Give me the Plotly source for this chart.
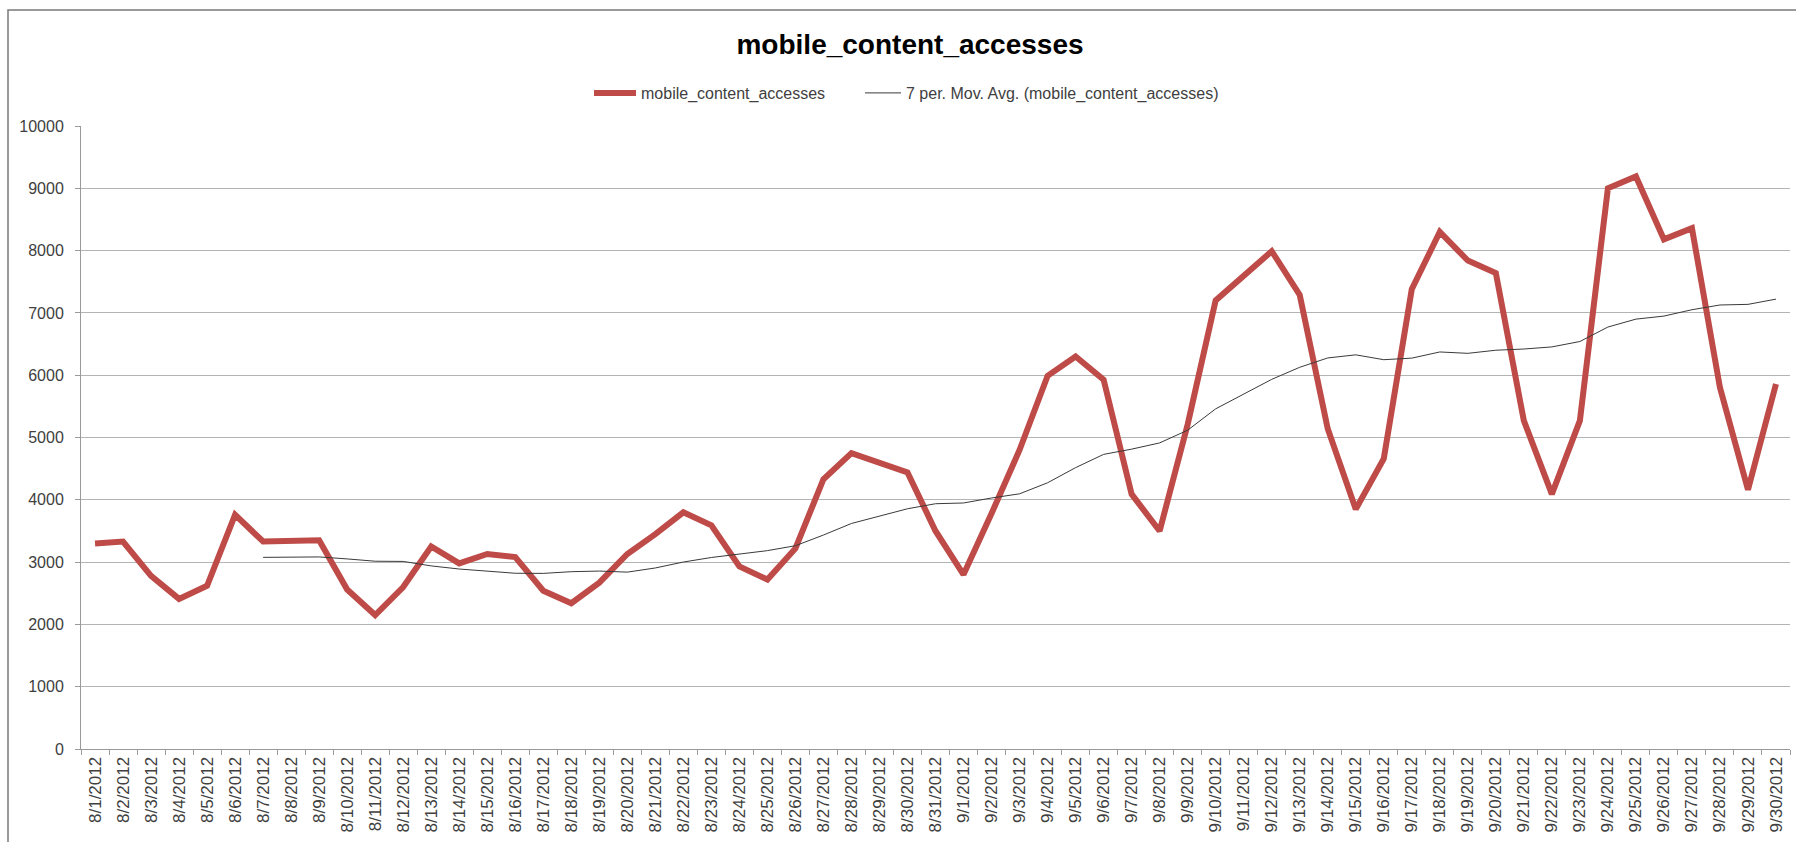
import plotly.graph_objects as go

dates = [
    "8/1/2012", "8/2/2012", "8/3/2012", "8/4/2012", "8/5/2012", "8/6/2012", "8/7/2012",
    "8/8/2012", "8/9/2012", "8/10/2012", "8/11/2012", "8/12/2012", "8/13/2012", "8/14/2012",
    "8/15/2012", "8/16/2012", "8/17/2012", "8/18/2012", "8/19/2012", "8/20/2012", "8/21/2012",
    "8/22/2012", "8/23/2012", "8/24/2012", "8/25/2012", "8/26/2012", "8/27/2012", "8/28/2012",
    "8/29/2012", "8/30/2012", "8/31/2012",
    "9/1/2012", "9/2/2012", "9/3/2012", "9/4/2012", "9/5/2012", "9/6/2012", "9/7/2012",
    "9/8/2012", "9/9/2012", "9/10/2012", "9/11/2012", "9/12/2012", "9/13/2012", "9/14/2012",
    "9/15/2012", "9/16/2012", "9/17/2012", "9/18/2012", "9/19/2012", "9/20/2012", "9/21/2012",
    "9/22/2012", "9/23/2012", "9/24/2012", "9/25/2012", "9/26/2012", "9/27/2012", "9/28/2012",
    "9/29/2012", "9/30/2012",
]

accesses = [
    3300, 3330, 2780, 2410, 2620, 3760, 3330,
    3330, 3350, 2560, 2150, 2600, 3250, 2980,
    3130, 3080, 2540, 2340, 2670, 3130, 3450,
    3800, 3590, 2930, 2720, 3220, 4330, 4750,
    4600, 4440, 3500,
    2800, 3780, 4800, 5990, 6300, 5930, 4090,
    3500, 5210, 7200, 7610, 7990, 7290, 5140,
    3850, 4660, 7380, 8300, 7840, 7640, 5270,
    4090, 5270, 9000, 9190, 8180, 8360, 5800,
    4160, 5860,
]

mov_avg = [
    None, None, None, None, None, None, 3076,
    3080, 3083, 3051, 3014, 3011, 2939, 2889,
    2860, 2821, 2819, 2846, 2856, 2839, 2906,
    3001, 3074, 3130, 3184, 3263, 3434, 3620,
    3734, 3856, 3937,
    3949, 4029, 4096, 4273, 4516, 4729, 4813,
    4913, 5117, 5460, 5691, 5933, 6127, 6277,
    6327, 6249, 6274, 6373, 6351, 6401, 6420,
    6454, 6541, 6773, 6900, 6949, 7051, 7127,
    7137, 7221,
]

y_ticks = [0, 1000, 2000, 3000, 4000, 5000, 6000, 7000, 8000, 9000, 10000]

FONT = "Liberation Sans, Arial, sans-serif"
W, H = 1796, 842
L, R, T, B = 81, 6, 126, 93
pw, ph = W - L - R, H - T - B


def px_x(p):
    return (p - L) / pw


def px_y(p):
    return (H - B - p) / ph


fig = go.Figure()
fig.add_trace(go.Scatter(
    x=dates, y=accesses, mode="lines", name="mobile_content_accesses",
    line=dict(color="#BE4B48", width=6), legend="legend",
))
fig.add_trace(go.Scatter(
    x=dates, y=mov_avg, mode="lines", name="7 per. Mov. Avg. (mobile_content_accesses)",
    line=dict(color="#3a3a3a", width=1), legend="legend2",
))

legend_font = dict(family=FONT, size=16, color="#404040")

fig.update_layout(
    width=W, height=H,
    margin=dict(l=L, r=R, t=T, b=B, pad=0),
    paper_bgcolor="white", plot_bgcolor="white",
    font=dict(family=FONT, color="#404040"),
    title=dict(
        text="<b>mobile_content_accesses</b>",
        x=px_x(910), xref="paper", xanchor="center",
        y=1 - 44 / H, yref="container", yanchor="middle",
        font=dict(family=FONT, size=28, color="#000000"),
    ),
    showlegend=True,
    legend=dict(
        orientation="h", x=px_x(589), xanchor="left",
        y=px_y(93), yanchor="middle",
        font=legend_font, bgcolor="rgba(0,0,0,0)", itemwidth=42,
    ),
    legend2=dict(
        orientation="h", x=px_x(860), xanchor="left",
        y=px_y(93), yanchor="middle",
        font=legend_font, bgcolor="rgba(0,0,0,0)", itemwidth=36,
    ),
    xaxis=dict(
        type="category", categoryorder="array", categoryarray=dates,
        range=[-0.5, len(dates) - 0.5],
        showgrid=False, showline=True, linecolor="#9a9a9a", linewidth=1,
        ticks="outside", tickson="boundaries", ticklen=5, tickcolor="#9a9a9a",
        tickangle=-90, tickfont=dict(family=FONT, size=17, color="#404040"),
        automargin=False, zeroline=False, fixedrange=True,
    ),
    yaxis=dict(
        range=[0, 10000], tickmode="array", tickvals=y_ticks,
        ticktext=[str(v) for v in y_ticks],
        showgrid=True, gridcolor="#b4b4b4", gridwidth=1,
        showline=True, linecolor="#9a9a9a", linewidth=1,
        ticks="outside", ticklen=5, tickcolor="#9a9a9a",
        tickfont=dict(family=FONT, size=16, color="#404040"),
        ticklabelstandoff=8,
        automargin=False, zeroline=False, fixedrange=True,
    ),
    shapes=[dict(
        type="rect", xref="paper", yref="paper",
        x0=px_x(8), x1=px_x(1805), y0=px_y(855), y1=px_y(10),
        line=dict(color="#7a7a7a", width=1.5), fillcolor="rgba(0,0,0,0)", layer="below",
    )],
)

fig.write_html(
    "out.html",
    config={"displayModeBar": False},
    post_script="document.body.style.margin='0';document.body.style.overflow='hidden';",
)
